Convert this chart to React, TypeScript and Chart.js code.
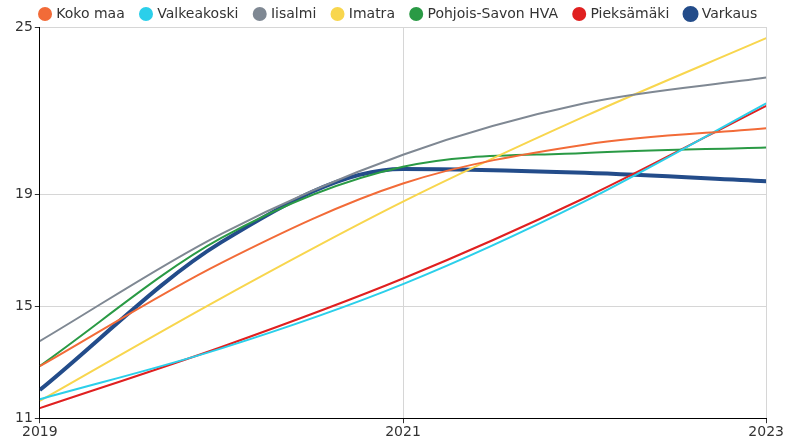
import React, { useEffect, useRef } from "react";
import { Chart, registerables } from "chart.js";

Chart.register(...registerables);

const years = [2019, 2020, 2021, 2022, 2023];
const xTicks = [2019, 2021, 2023];
const yTicks = [11, 15, 19, 25];

const kokoMaa = [12.86, 16.56, 19.4, 20.79, 21.38];
const valkeakoski = [11.68, 13.5, 15.8, 18.76, 22.27];
const iisalmi = [13.76, 17.6, 20.43, 22.27, 23.19];
const imatra = [11.62, 15.3, 18.75, 21.8, 24.6];
const pohjoisSavo = [12.87, 17.45, 20.0, 20.49, 20.69];
const pieksamaki = [11.36, 13.55, 16.0, 18.88, 22.18];
const varkaus = [12.01, 17.3, 19.92, 19.78, 19.48];

const seriesNames = ["Koko maa", "Valkeakoski", "Iisalmi", "Imatra", "Pohjois-Savon HVA", "Pieksämäki", "Varkaus"];
const seriesValues = [kokoMaa, valkeakoski, iisalmi, imatra, pohjoisSavo, pieksamaki, varkaus];
const seriesColors = ["#f26b38", "#2bcfea", "#7f8893", "#f8d64e", "#2a9a45", "#e02020", "#234c8a"];
const seriesWidths = [2, 2, 2, 2, 2, 2, 4];

const FONT = "'DejaVu Sans', sans-serif";

const legendHeightPlugin = {
  id: "legendHeight",
  beforeInit(chart: any) {
    const legend = chart.legend;
    if (!legend) return;
    const orig = legend.fit;
    legend.fit = function () {
      orig.call(this);
      this.height = 37;
    };
  },
};

export default function App() {
  const ref = useRef<HTMLCanvasElement>(null);
  useEffect(() => {
    document.body.style.margin = "0";
    const ctx = ref.current!;
    const chart = new Chart(ctx, {
      type: "line",
      data: {
        datasets: seriesNames.map((name, i) => ({
          label: name,
          data: years.map((y, j) => ({ x: y, y: seriesValues[i][j] })),
          borderColor: seriesColors[i],
          backgroundColor: seriesColors[i],
          borderWidth: seriesWidths[i],
          pointRadius: 0,
          pointHoverRadius: 0,
          cubicInterpolationMode: "monotone" as const,
          fill: false,
        })),
      },
      plugins: [legendHeightPlugin],
      options: {
        animation: false,
        responsive: false,
        maintainAspectRatio: false,
        layout: { padding: { left: 13, right: 0, top: -10, bottom: 0 } },
        font: { family: FONT, size: 14 },
        plugins: {
          legend: {
            position: "top",
            align: "center",
            labels: {
              usePointStyle: true,
              pointStyle: "circle",
              boxWidth: 8.5,
              boxHeight: 8.5,
              padding: 17,
              color: "#333",
              font: { family: FONT, size: 14 },
            },
          },
          tooltip: { enabled: false },
        },
        scales: {
          x: {
            type: "linear",
            min: 2019,
            max: 2023,
            afterBuildTicks: (axis: any) => {
              axis.ticks = xTicks.map((v) => ({ value: v }));
            },
            ticks: {
              color: "#333",
              padding: 1,
              maxRotation: 0,
              font: { family: FONT, size: 14 },
              callback: (v: any) => String(v),
            },
            grid: { color: "#d6d6d6", tickColor: "#333", tickLength: 5, lineWidth: 1 },
            border: { color: "#000", width: 1 },
          },
          y: {
            type: "linear",
            min: 11,
            max: 25,
            afterBuildTicks: (axis: any) => {
              axis.ticks = yTicks.map((v) => ({ value: v }));
            },
            ticks: {
              color: "#333",
              padding: 2,
              font: { family: FONT, size: 14 },
              callback: (v: any) => String(v),
            },
            grid: { color: "#d6d6d6", tickColor: "#333", tickLength: 5, lineWidth: 1 },
            border: { color: "#000", width: 1 },
          },
        },
      },
    });
    return () => chart.destroy();
  }, []);
  return (
    <div style={{ width: 785, height: 442 }}>
      <canvas ref={ref} width={785} height={442} style={{ display: "block" }} />
    </div>
  );
}
